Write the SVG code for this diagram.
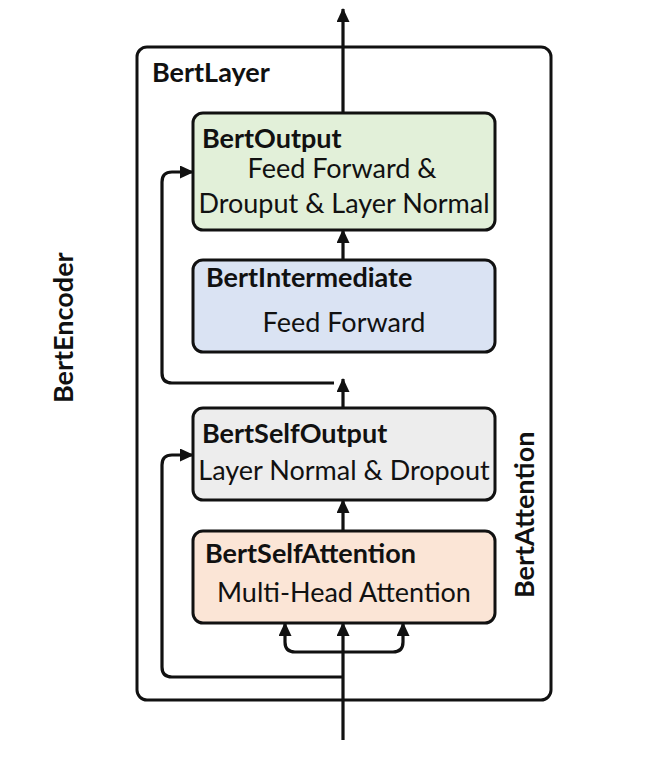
<svg xmlns="http://www.w3.org/2000/svg" width="654" height="774" viewBox="0 0 654 774">
<defs>
<style>
text{font-family:Lato,"Open Sans","Liberation Sans",sans-serif;fill:#111;font-size:27px}
.b{font-weight:bold}
.c{text-anchor:middle}
.box{stroke:#111;stroke-width:3}
.ln{fill:none;stroke:#111;stroke-width:3.2}
</style>
<marker id="ah" viewBox="0 0 14 13" refX="13" refY="6.5" markerWidth="14" markerHeight="13" markerUnits="userSpaceOnUse" orient="auto">
<path d="M0,0 L14,6.5 L0,13 z" fill="#111"/>
</marker>
</defs>
<rect width="654" height="774" fill="#fff"/>
<g id="bertlayer">
<rect x="137" y="47" width="414" height="653" rx="10" fill="none" stroke="#111" stroke-width="3"/>
<text class="b" x="152" y="82">BertLayer</text>
</g>
<g id="bertencoder">
<text class="b" transform="translate(73,403) rotate(-90)">BertEncoder</text>
</g>
<g id="bertattention">
<text class="b" transform="translate(534,598) rotate(-90)">BertAttention</text>
</g>
<g id="bertoutput">
<rect class="box" x="193" y="113" width="302" height="117" rx="10" fill="#e2f0d9"/>
<text class="b" x="202" y="148">BertOutput</text>
<text class="c" x="342" y="178">Feed Forward &amp;</text>
<text class="c" x="344" y="213">Drouput &amp; Layer Normal</text>
</g>
<g id="bertintermediate">
<rect class="box" x="193" y="260" width="302" height="92" rx="10" fill="#dae3f3"/>
<text class="b" x="206" y="287">BertIntermediate</text>
<text class="c" x="344" y="332">Feed Forward</text>
</g>
<g id="bertselfoutput">
<rect class="box" x="193" y="408" width="302" height="92" rx="10" fill="#ededed"/>
<text class="b" x="202" y="443">BertSelfOutput</text>
<text class="c" x="344" y="480">Layer Normal &amp; Dropout</text>
</g>
<g id="bertselfattention">
<rect class="box" x="193" y="531" width="302" height="92" rx="10" fill="#fbe5d6"/>
<text class="b" x="205" y="563">BertSelfAttention</text>
<text class="c" x="344" y="602">Multi-Head Attention</text>
</g>
<g id="connectors">
<path class="ln" d="M343,113 V9" marker-end="url(#ah)"/>
<path class="ln" d="M343,260 V230" marker-end="url(#ah)"/>
<path class="ln" d="M343,408 V379" marker-end="url(#ah)"/>
<path class="ln" d="M343,531 V500" marker-end="url(#ah)"/>
<path class="ln" d="M343,740 V623" marker-end="url(#ah)"/>
<path class="ln" d="M343,652 H295 Q285,652 285,642 V623" marker-end="url(#ah)"/>
<path class="ln" d="M343,652 H393 Q403,652 403,642 V623" marker-end="url(#ah)"/>
<path class="ln" d="M334,383 H172 Q162,383 162,373 V182 Q162,172 172,172 H193" marker-end="url(#ah)"/>
<path class="ln" d="M343,677 H172 Q162,677 162,667 V465 Q162,455 172,455 H193" marker-end="url(#ah)"/>
</g>
</svg>
